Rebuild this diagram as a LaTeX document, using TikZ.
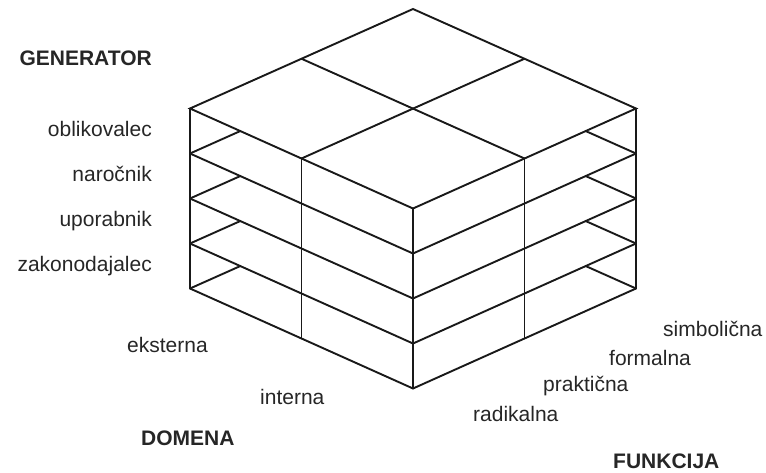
\documentclass[tikz,border=0pt]{standalone}
\usepackage{fontspec}
\setmainfont{Liberation Sans}
\usetikzlibrary{calc}
\begin{document}
\begin{tikzpicture}[x=1pt,y=-1pt,
  edge/.style={line width=1.9pt, line join=miter, line cap=round, black!90},
  lbl/.style={font=\fontsize{21}{25}\selectfont, inner sep=0pt, text=black!85},
  ttl/.style={inner sep=0pt, font=\fontsize{21}{25}\selectfont\bfseries, text=black!85}]
\useasboundingbox (0,0) rectangle (766,473);
% top face corners
\coordinate (B) at (413,9);
\coordinate (L) at (190,108.5);
\coordinate (F) at (413,208.5);
\coordinate (R) at (636,108.5);
\coordinate (LB) at ($(L)!0.5!(B)$);
\coordinate (BR) at ($(B)!0.5!(R)$);
\coordinate (LF) at ($(L)!0.5!(F)$);
\coordinate (FR) at ($(F)!0.5!(R)$);
% top face
\draw[edge] (L) -- (B) -- (R) -- (F) -- cycle;
\draw[edge] (LB) -- (FR);
\draw[edge] (BR) -- (LF);
% vertical edges
\foreach \p in {L,LF,F,FR,R}{
  \draw[edge] (\p) -- ++(0,180);
}
% layer lines and stubs
\foreach \k in {1,2,3,4}{
  \draw[edge] ($(L)+(0,45*\k)$) -- ($(F)+(0,45*\k)$) -- ($(R)+(0,45*\k)$);
  \draw[edge] ($(L)+(0,45*\k)$) -- ++(50.2,-22.4);
  \draw[edge] ($(R)+(0,45*\k)$) -- ++(-50.2,-22.4);
}
% labels
\node[ttl, anchor=base east] (gen) at (152,66) {GENERATOR};
\node[lbl, anchor=base east] (obl) at (152,137) {oblikovalec};
\node[lbl, anchor=base east] (nar) at (152,182) {naročnik};
\node[lbl, anchor=base east] (upo) at (152,227) {uporabnik};
\node[lbl, anchor=base east] (zak) at (152,272) {zakonodajalec};
\node[lbl, anchor=base west] (eks) at (127,352) {eksterna};
\node[lbl, anchor=base west] (int) at (260,404) {interna};
\node[ttl, anchor=base west] (dom) at (141,445) {DOMENA};
\node[lbl, anchor=base west] (rad) at (473,421) {radikalna};
\node[lbl, anchor=base west] (pra) at (543,391) {praktična};
\node[lbl, anchor=base west] (for) at (609,365) {formalna};
\node[lbl, anchor=base west] (sim) at (663,336) {simbolična};
\node[ttl, anchor=base west] (fun) at (613,468) {FUNKCIJA};
\end{tikzpicture}
\end{document}
